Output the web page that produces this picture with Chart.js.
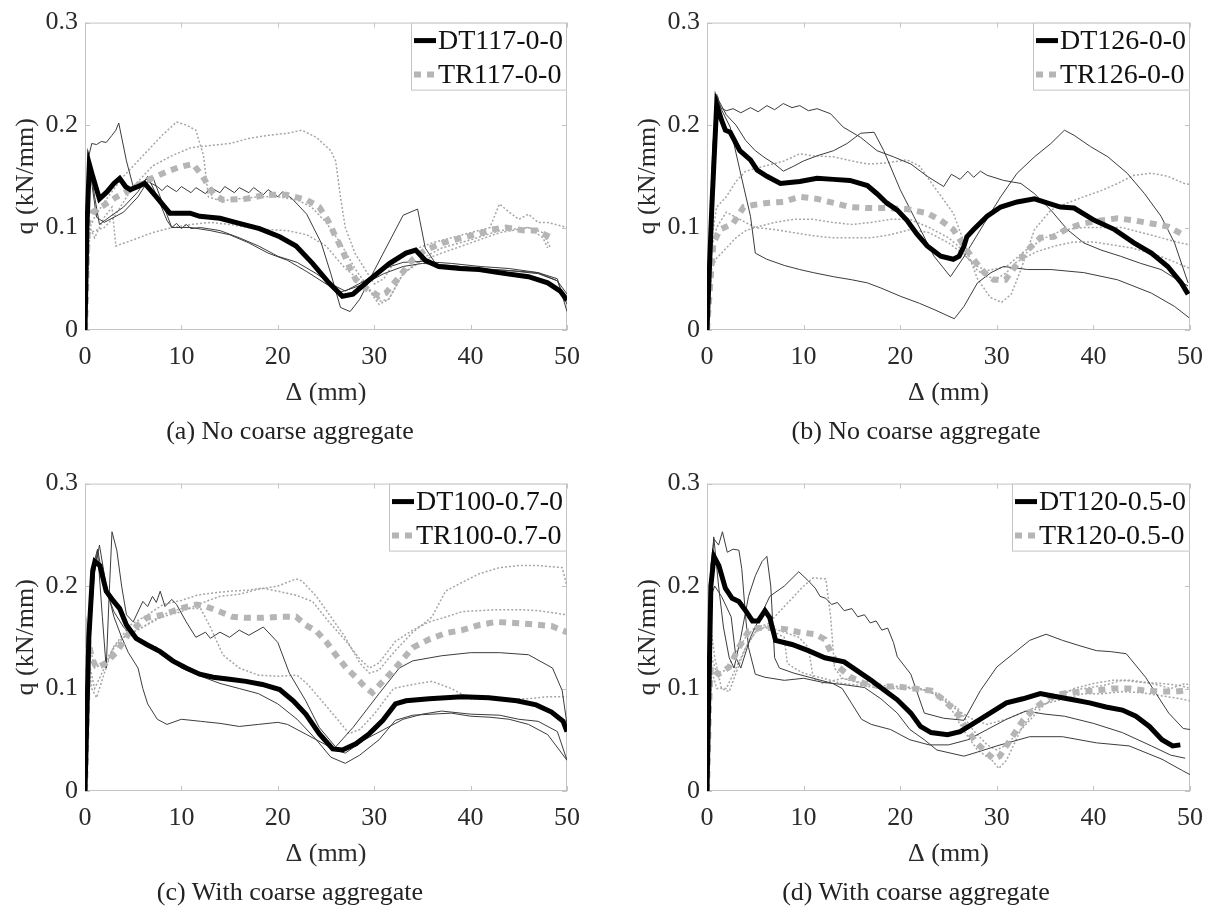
<!DOCTYPE html>
<html><head><meta charset="utf-8">
<script src="https://cdn.jsdelivr.net/npm/chart.js@4.4.0/dist/chart.umd.min.js"></script>
<style>
html,body{margin:0;padding:0;background:#fff;width:1215px;height:906px;overflow:hidden;position:relative;font-family:'Liberation Serif','Times New Roman',serif;}
canvas{position:absolute;}
.cap{position:absolute;transform:translate(-50%,-50%);font-size:26px;color:#222;white-space:nowrap;line-height:1;}
</style></head><body>
<script>
// ---------------- DATA: [Δ (mm), q (kN/mm)] pairs ----------------
// Panel (a)
const aDTmean=[[0,0],[0.2,0.1],[0.45,0.162],[0.8,0.15],[1.5,0.128],[2.3,0.135],[3,0.143],[3.6,0.148],[4.2,0.14],[4.7,0.137],[5.5,0.14],[6.2,0.143],[7.4,0.13],[8.8,0.114],[10.9,0.114],[11.9,0.111],[14,0.109],[16,0.104],[18.1,0.099],[20.2,0.091],[21.9,0.082],[23.6,0.065],[25.3,0.046],[26.7,0.033],[27.8,0.035],[29.5,0.049],[31.6,0.065],[33.3,0.075],[34.3,0.078],[35.3,0.068],[36.7,0.062],[38.9,0.06],[40.9,0.059],[42.9,0.056],[46,0.052],[48,0.046],[49.3,0.038],[50,0.029]];
const aTRmean=[[0,0],[0.15,0.05],[0.3,0.105],[0.8,0.115],[2,0.122],[3.3,0.13],[4.7,0.137],[6,0.144],[7.4,0.15],[8.6,0.155],[9.8,0.159],[11.2,0.162],[12.2,0.15],[13.3,0.133],[14.3,0.127],[16.7,0.128],[18.8,0.132],[20.9,0.132],[23,0.127],[24.3,0.12],[25.2,0.107],[26,0.091],[26.7,0.078],[27.4,0.062],[28.1,0.049],[29.1,0.041],[30.5,0.033],[31.2,0.036],[32.6,0.052],[34,0.069],[35.3,0.078],[37.1,0.085],[39.1,0.09],[40.9,0.094],[42.2,0.098],[43.7,0.1],[45.6,0.097],[46.8,0.097],[48.4,0.09]];
const aDT1=[[0,0],[0.4,0.17],[0.7,0.182],[1.2,0.181],[1.7,0.184],[2.2,0.183],[2.8,0.19],[3.2,0.195],[3.5,0.202],[4.3,0.165],[5,0.14],[6,0.145],[7,0.15],[8,0.125],[9,0.1],[11,0.1],[13,0.097],[15,0.093],[17,0.085],[19,0.075],[21,0.068],[23,0.057],[25,0.045],[26.5,0.037],[27.5,0.04],[29,0.045],[31,0.055],[33,0.062],[35,0.065],[38,0.063],[41,0.06],[44,0.058],[47,0.055],[49,0.048],[50,0.035]];
const aDT2=[[0,0],[0.3,0.14],[0.5,0.162],[1,0.13],[1.5,0.103],[2.5,0.11],[4,0.12],[5.5,0.135],[6.5,0.15],[7.5,0.13],[8.5,0.107],[9,0.1],[9.5,0.104],[10,0.099],[10.5,0.103],[11,0.099],[12,0.1],[14,0.097],[16,0.09],[18,0.082],[20,0.072],[22,0.066],[24,0.055],[25.5,0.045],[27,0.038],[29,0.048],[31,0.06],[33,0.066],[35,0.067],[38,0.065],[41,0.062],[44,0.06],[47,0.056],[49,0.048],[50,0.025]];
const aDT3=[[0,0],[0.3,0.12],[0.6,0.15],[1.2,0.11],[2,0.105],[4,0.115],[5.5,0.13],[6.5,0.145],[7.5,0.14],[8,0.136],[8.5,0.141],[9.5,0.135],[10,0.14],[11,0.134],[11.5,0.139],[12.5,0.133],[13,0.139],[14,0.134],[14.5,0.14],[15.5,0.134],[16,0.139],[17,0.134],[17.5,0.139],[18.5,0.132],[19,0.137],[20,0.13],[20.5,0.135],[21.5,0.128],[23,0.113],[24.5,0.085],[25.5,0.055],[26.5,0.022],[27.5,0.018],[28.5,0.03],[30,0.058],[31.5,0.085],[33,0.112],[34.5,0.118],[35.3,0.08],[36.5,0.063],[40,0.06],[44,0.058],[47,0.056],[49,0.05],[50,0.018]];
const aTR1=[[0,0],[0.5,0.1],[1,0.11],[2,0.125],[4,0.15],[6,0.17],[8,0.19],[9.5,0.203],[10.5,0.2],[11.5,0.195],[12.3,0.17],[12.8,0.13],[14,0.126],[16,0.128],[18,0.13],[20,0.13],[22,0.127],[23.5,0.12],[25,0.105],[26.5,0.085],[28,0.06],[29.5,0.04],[30.5,0.028],[31.5,0.03],[33,0.055],[35,0.07],[37,0.08],[40,0.088],[43,0.097],[46,0.1],[47.5,0.095],[48.3,0.08]];
const aTR2=[[0,0],[0.5,0.095],[2,0.1],[3,0.11],[5,0.14],[7,0.16],[9,0.17],[11,0.178],[13,0.18],[15,0.182],[17,0.187],[19,0.19],[21,0.192],[22.5,0.195],[24,0.188],[25.5,0.175],[26,0.165],[26.5,0.13],[27,0.1],[28,0.075],[29,0.06],[30,0.045],[31,0.05],[32,0.065],[34,0.078],[36,0.085],[38,0.09],[40,0.095],[42,0.1],[43,0.123],[44,0.115],[45,0.108],[46,0.113],[47,0.105],[48,0.105],[50,0.1]];
const aTR3=[[0,0],[0.5,0.1],[1,0.09],[2,0.11],[2.8,0.12],[3.2,0.082],[5,0.088],[7,0.095],[9,0.1],[11,0.103],[13,0.105],[15,0.103],[17,0.1],[19,0.098],[21,0.097],[23,0.093],[25,0.082],[27,0.06],[29,0.045],[30.5,0.025],[31.5,0.03],[33,0.055],[35,0.068],[37,0.075],[40,0.085],[43,0.095],[46,0.1],[47.5,0.09],[48,0.08]];
// Panel (b)
const bDTmean=[[0,0],[0.5,0.12],[1,0.22],[1.5,0.205],[1.9,0.195],[2.4,0.193],[3.4,0.175],[4.5,0.166],[5.2,0.156],[6.2,0.15],[7.6,0.143],[9.6,0.145],[11.4,0.148],[13.1,0.147],[14.8,0.146],[16.6,0.141],[17.6,0.133],[18.6,0.124],[19.7,0.117],[20.7,0.107],[21.7,0.094],[22.8,0.082],[24.2,0.072],[25.5,0.069],[26.1,0.072],[26.6,0.082],[26.9,0.091],[27.6,0.098],[29,0.111],[30.4,0.12],[32.1,0.125],[33.9,0.128],[35.2,0.124],[36.6,0.12],[38,0.119],[40.1,0.107],[42.2,0.098],[44.2,0.085],[46,0.075],[47.7,0.062],[49.1,0.046],[49.8,0.035]];
const bTRmean=[[0,0],[0.3,0.04],[0.66,0.085],[1.35,0.098],[2.7,0.104],[3.8,0.12],[4.8,0.122],[6.2,0.124],[7.9,0.125],[9.6,0.13],[11.4,0.128],[13.1,0.124],[14.8,0.12],[16.6,0.119],[18.6,0.119],[20.7,0.118],[22.8,0.114],[24.2,0.107],[25.5,0.098],[26.6,0.082],[27.6,0.069],[28.7,0.056],[29.7,0.049],[30.9,0.049],[31.9,0.062],[33.2,0.078],[34.5,0.09],[35.9,0.091],[37.3,0.099],[39,0.104],[40.8,0.107],[42.5,0.109],[44.2,0.107],[46,0.104],[47.7,0.101],[49.1,0.094]];
const bDT1=[[0,0],[0.5,0.15],[1,0.23],[1.5,0.215],[2.4,0.198],[3.4,0.156],[4.5,0.111],[5,0.075],[6.2,0.069],[8,0.063],[9.6,0.059],[11,0.056],[13.1,0.052],[15,0.049],[16.6,0.046],[18,0.041],[20,0.033],[22,0.026],[23.5,0.02],[25.6,0.011],[26.6,0.023],[28,0.046],[29.4,0.056],[30.7,0.062],[33.2,0.059],[35.6,0.059],[39,0.056],[42.5,0.049],[46,0.036],[48.4,0.023],[49.9,0.012]];
const bDT2=[[0,0],[0.6,0.18],[1.1,0.228],[1.35,0.217],[2,0.214],[2.7,0.216],[3.5,0.212],[4.5,0.217],[5.3,0.213],[6.2,0.219],[7,0.215],[7.9,0.221],[8.8,0.217],[9.6,0.219],[10.5,0.214],[11.4,0.216],[12.8,0.211],[14.1,0.198],[15,0.193],[15.9,0.188],[17.6,0.175],[19.3,0.169],[21.1,0.162],[22.8,0.15],[24.5,0.14],[25.3,0.152],[26.2,0.147],[27,0.155],[27.6,0.149],[28.3,0.155],[29,0.151],[30.7,0.146],[32.5,0.143],[33.9,0.133],[35.6,0.117],[37.3,0.098],[39,0.085],[40.8,0.078],[42.8,0.072],[44.9,0.065],[47,0.059],[48.7,0.049],[49.8,0.043]];
const bDT3=[[0,0],[0.6,0.17],[1.1,0.226],[2,0.21],[3,0.2],[4,0.185],[5,0.175],[6,0.168],[7,0.162],[7.9,0.155],[9,0.16],[10,0.165],[11.4,0.17],[13.1,0.175],[14.5,0.182],[15.9,0.192],[17.3,0.193],[18.3,0.175],[20,0.137],[21.4,0.111],[23.5,0.072],[25.2,0.052],[26.5,0.07],[28.7,0.104],[30.4,0.13],[32.1,0.153],[33.9,0.169],[35.6,0.182],[37,0.195],[38,0.19],[39.7,0.179],[41.5,0.169],[43.5,0.153],[45.3,0.133],[47,0.111],[48.4,0.085],[49.8,0.046]];
const bTR1=[[0,0],[0.5,0.09],[1,0.12],[2,0.13],[3,0.145],[4,0.155],[6,0.16],[8,0.165],[9.6,0.172],[11,0.17],[13.1,0.169],[15,0.165],[16.6,0.162],[18.5,0.163],[20.7,0.166],[22,0.16],[23.5,0.14],[25.5,0.114],[26.9,0.078],[28,0.05],[29.3,0.032],[30.5,0.027],[31.5,0.035],[32.5,0.059],[33.9,0.098],[35.6,0.117],[37.3,0.124],[39,0.13],[40.8,0.136],[42.5,0.143],[44.2,0.151],[46,0.153],[47.7,0.15],[49.4,0.143],[50,0.142]];
const bTR2=[[0,0],[0.5,0.06],[1,0.07],[2,0.08],[3,0.09],[4,0.097],[5,0.1],[7,0.105],[9,0.108],[11,0.108],[13,0.105],[15,0.103],[17,0.105],[19,0.108],[21,0.108],[23,0.1],[25,0.09],[26,0.082],[27,0.07],[28,0.058],[29,0.052],[30,0.05],[31,0.056],[32,0.066],[34,0.076],[36,0.082],[38,0.086],[40,0.086],[42,0.083],[44,0.08],[46,0.075],[48,0.068],[50,0.06]];
const bTR3=[[0,0],[0.5,0.08],[1,0.1],[2,0.115],[3,0.11],[5,0.1],[7,0.098],[9,0.095],[11,0.092],[13,0.09],[15,0.09],[17,0.09],[19,0.093],[21,0.098],[23,0.095],[25,0.085],[26,0.078],[27,0.07],[28,0.062],[29,0.058],[31,0.062],[33,0.078],[35,0.09],[37,0.098],[39,0.1],[41,0.1],[43,0.1],[45,0.095],[47,0.09],[49,0.085],[50,0.083]];
// Panel (c)
const cDTmean=[[0,0],[0.4,0.15],[0.8,0.215],[1.03,0.224],[1.55,0.22],[2.2,0.195],[2.9,0.186],[3.6,0.178],[4.3,0.162],[5.3,0.149],[6.4,0.143],[7.8,0.136],[9.1,0.127],[10.5,0.12],[11.9,0.114],[13.3,0.111],[15,0.109],[16.7,0.107],[18.4,0.104],[20.2,0.099],[21.6,0.088],[22.9,0.075],[24.3,0.056],[25.7,0.041],[26.7,0.04],[28.1,0.046],[29.5,0.056],[30.9,0.069],[32.2,0.085],[33.3,0.088],[35.7,0.09],[39.1,0.092],[41.9,0.091],[44.8,0.088],[46.8,0.084],[48.4,0.077],[49.6,0.068],[50,0.058]];
const cTRmean=[[0,0],[0.2,0.08],[0.35,0.146],[0.7,0.13],[1.2,0.12],[2.2,0.125],[3.3,0.136],[4.7,0.156],[6.4,0.169],[8.1,0.172],[9.8,0.178],[11.6,0.182],[12.6,0.18],[14,0.175],[15.3,0.17],[16.7,0.169],[18.4,0.169],[20.2,0.17],[21.9,0.17],[22.9,0.162],[24,0.156],[25,0.146],[26,0.133],[27.1,0.12],[28.1,0.111],[29.1,0.101],[29.8,0.096],[30.9,0.107],[32.2,0.12],[34,0.14],[35.7,0.148],[37.4,0.154],[39.1,0.157],[40.9,0.162],[42.6,0.165],[44.5,0.164],[46,0.163],[48.4,0.161],[50,0.155]];
const cDT1=[[0,0],[0.5,0.15],[1,0.215],[1.5,0.24],[2.2,0.2],[3,0.17],[3.8,0.15],[4.5,0.135],[5.5,0.12],[6,0.1],[6.5,0.085],[7.5,0.07],[8.5,0.065],[10,0.07],[12,0.068],[14,0.066],[16,0.063],[18,0.065],[20,0.067],[21,0.065],[23,0.055],[25,0.045],[26,0.04],[27,0.037],[29,0.05],[31,0.06],[33,0.07],[35,0.075],[37,0.078],[40,0.075],[43,0.074],[45,0.07],[47,0.068],[49,0.058],[50,0.03]];
const cDT2=[[0,0],[0.4,0.12],[0.8,0.2],[1.3,0.235],[1.8,0.17],[2.2,0.12],[2.5,0.19],[2.8,0.253],[3.3,0.235],[3.8,0.2],[4.3,0.172],[5,0.165],[6,0.185],[6.5,0.18],[7,0.19],[7.4,0.184],[7.8,0.195],[8.3,0.18],[9,0.187],[9.5,0.182],[10.5,0.165],[11.5,0.15],[12.5,0.155],[13,0.149],[14,0.155],[15,0.15],[16,0.157],[17,0.152],[18.5,0.16],[20,0.145],[21.2,0.115],[22.9,0.088],[24.3,0.062],[26,0.043],[27.8,0.062],[30.5,0.095],[32.6,0.12],[34,0.127],[37,0.132],[40,0.135],[43,0.135],[46,0.133],[48.5,0.12],[49.5,0.098],[50,0.065]];
const cDT3=[[0,0],[0.5,0.16],[1,0.225],[1.3,0.236],[2,0.2],[3,0.175],[4,0.16],[5,0.15],[6,0.145],[7.5,0.14],[8.5,0.13],[10,0.12],[12,0.112],[14,0.105],[16,0.1],[18,0.095],[20,0.085],[22,0.07],[24,0.05],[25.5,0.033],[27,0.027],[28.5,0.035],[30.5,0.05],[32.2,0.069],[34,0.074],[36,0.075],[38,0.076],[40,0.073],[42,0.072],[44,0.07],[46,0.065],[48,0.055],[50,0.03]];
const cTR1=[[0,0],[0.3,0.15],[1,0.12],[2,0.125],[3,0.14],[4,0.15],[6,0.16],[8,0.17],[10,0.175],[12,0.183],[14,0.19],[16,0.192],[18,0.197],[20,0.2],[21.9,0.207],[22.5,0.205],[24,0.19],[25.5,0.17],[27,0.15],[28.5,0.125],[29.5,0.115],[30.5,0.118],[32,0.135],[34,0.155],[36,0.17],[37.4,0.195],[39,0.203],[40.9,0.212],[43,0.218],[45,0.22],[47,0.22],[49.5,0.218],[50,0.2]];
const cTR2=[[0,0],[0.3,0.13],[0.7,0.1],[1.2,0.091],[2,0.115],[2.9,0.14],[4.7,0.162],[6.5,0.172],[8.1,0.182],[10,0.186],[11.6,0.191],[13,0.193],[15,0.195],[17,0.196],[18.4,0.198],[20,0.195],[21.9,0.191],[23.6,0.185],[25.3,0.165],[27.1,0.146],[28.4,0.13],[29.5,0.12],[30.5,0.125],[32.2,0.146],[34,0.157],[35.7,0.165],[37.5,0.17],[39.1,0.175],[42.6,0.177],[45,0.177],[47,0.176],[50,0.172]];
const cTR3=[[0,0],[0.3,0.13],[1,0.1],[2,0.12],[3,0.14],[4,0.15],[6,0.16],[8,0.172],[10,0.178],[12,0.178],[13,0.16],[14.3,0.133],[16,0.12],[18,0.113],[20,0.112],[22,0.113],[23,0.105],[24.3,0.091],[26,0.072],[27.4,0.056],[28.5,0.06],[30,0.075],[32,0.1],[34,0.104],[36,0.107],[38,0.1],[40,0.09],[42,0.09],[44,0.09],[46,0.09],[48,0.092],[50,0.092]];
// Panel (d)
const dDTmean=[[0,0],[0.4,0.2],[0.72,0.229],[1.23,0.22],[1.9,0.198],[2.6,0.188],[3.3,0.185],[4,0.176],[4.7,0.166],[5.3,0.166],[6,0.176],[6.5,0.169],[7.1,0.147],[8.8,0.143],[10.5,0.137],[12.2,0.13],[14.2,0.126],[15.3,0.119],[17,0.108],[18.4,0.098],[19.7,0.089],[21.1,0.076],[22.1,0.063],[23.2,0.057],[24.9,0.055],[26.2,0.058],[27.6,0.066],[29.3,0.076],[31,0.086],[32.7,0.09],[34.5,0.095],[36.2,0.092],[37.9,0.089],[39.6,0.086],[41.3,0.082],[43,0.079],[44.4,0.073],[45.8,0.063],[47.1,0.05],[48.2,0.044],[49,0.045]];
const dTRmean=[[0,0],[0.2,0.08],[0.4,0.121],[1.2,0.114],[2.3,0.121],[3.3,0.14],[4.3,0.156],[5.3,0.159],[6.7,0.159],[8.1,0.158],[9.5,0.155],[11.2,0.153],[12.2,0.148],[12.9,0.134],[13.6,0.121],[14.9,0.111],[16.3,0.105],[18,0.102],[19.7,0.102],[21.4,0.1],[23.2,0.098],[24.5,0.089],[25.9,0.076],[26.9,0.06],[27.9,0.047],[29,0.037],[29.7,0.031],[30.3,0.034],[31.4,0.05],[32.7,0.069],[34.1,0.082],[35.5,0.092],[36.8,0.095],[38.6,0.097],[40.3,0.098],[42,0.1],[43.7,0.1],[45.4,0.098],[47.1,0.097],[48.5,0.097],[49.5,0.098]];
const dDT1=[[0,0],[0.4,0.22],[0.72,0.246],[1.2,0.24],[1.6,0.253],[2.1,0.233],[2.7,0.236],[3.3,0.235],[3.6,0.217],[4,0.17],[4.3,0.14],[5,0.114],[6,0.111],[8,0.108],[10,0.11],[12,0.106],[14,0.104],[16.3,0.101],[18,0.09],[19.7,0.076],[21,0.06],[22.5,0.05],[23.8,0.04],[26.6,0.034],[28,0.038],[30,0.044],[33.4,0.053],[36.8,0.053],[40.3,0.047],[43.7,0.044],[47.1,0.031],[49.2,0.02],[50,0.016]];
const dDT2=[[0,0],[0.4,0.2],[0.7,0.248],[1.2,0.2],[1.7,0.16],[2.3,0.13],[2.8,0.12],[3.5,0.15],[4.3,0.19],[5,0.21],[5.7,0.224],[6.2,0.229],[6.6,0.2],[7,0.13],[7.5,0.12],[9,0.115],[11,0.11],[13,0.105],[14,0.1],[15,0.085],[16,0.07],[17,0.065],[19,0.06],[21,0.05],[23,0.045],[25,0.045],[27,0.05],[29,0.06],[31,0.07],[33,0.078],[35,0.075],[37,0.073],[40,0.066],[43,0.057],[46,0.044],[48,0.035],[49.5,0.032]];
const dDT3=[[0,0],[0.4,0.19],[0.8,0.2],[1.5,0.19],[2.5,0.17],[3,0.13],[3.5,0.12],[4.5,0.15],[5.5,0.17],[6.5,0.19],[8,0.2],[9.5,0.214],[10.5,0.205],[11.2,0.198],[11.7,0.19],[12.3,0.188],[12.9,0.182],[13.5,0.184],[14.2,0.176],[15,0.178],[15.6,0.17],[16.3,0.172],[16.9,0.164],[17.5,0.166],[18.1,0.157],[18.7,0.159],[19.3,0.145],[19.7,0.131],[21.1,0.114],[22.5,0.076],[24.5,0.071],[26.6,0.069],[28.3,0.098],[30,0.121],[31.7,0.134],[33.4,0.147],[35.1,0.153],[36.8,0.147],[38.5,0.142],[40.3,0.137],[41.8,0.136],[43.4,0.134],[45.4,0.111],[47.8,0.076],[49.3,0.061],[50,0.06]];
const dTR1=[[0,0],[0.4,0.12],[1,0.1],[2,0.1],[3,0.12],[4,0.14],[5,0.155],[6,0.16],[7,0.17],[8,0.18],[9,0.19],[10,0.2],[11,0.208],[12.3,0.207],[12.8,0.17],[13.2,0.12],[14,0.11],[15,0.108],[17,0.103],[19,0.1],[21,0.1],[23,0.098],[25,0.085],[26.5,0.06],[28,0.04],[29.5,0.03],[30.2,0.022],[31,0.03],[32.5,0.06],[34,0.08],[36,0.09],[38,0.1],[40,0.105],[42,0.108],[44,0.108],[46,0.105],[48,0.1],[49.5,0.105],[50,0.103]];
const dTR2=[[0,0],[0.4,0.16],[0.8,0.13],[1.5,0.1],[2.3,0.097],[3,0.115],[4,0.14],[5,0.155],[6,0.16],[7,0.155],[8,0.15],[8.3,0.125],[9,0.12],[10,0.115],[12,0.11],[14,0.105],[16,0.103],[18,0.1],[20,0.102],[22,0.1],[24,0.093],[26,0.078],[27.5,0.07],[29,0.065],[31,0.07],[33,0.078],[35,0.085],[37,0.09],[39,0.095],[41,0.095],[43,0.097],[45,0.096],[47,0.093],[49,0.09],[50,0.088]];
const dTR3=[[0,0],[0.5,0.13],[1,0.115],[2,0.118],[3,0.135],[4,0.15],[5,0.16],[6,0.162],[7,0.158],[8,0.155],[9.5,0.15],[10.5,0.14],[11,0.11],[12,0.105],[14,0.11],[16,0.105],[18,0.103],[20,0.102],[22,0.1],[24,0.095],[26,0.08],[27.5,0.06],[29,0.045],[30,0.04],[31,0.045],[33,0.065],[35,0.085],[37,0.097],[39,0.1],[41,0.103],[43,0.108],[45,0.106],[47,0.105],[49,0.103],[50,0.1]];

const xTicks=[0,10,20,30,40,50];
const yTicks=[0,0.1,0.2,0.3];
const captions=['(a) No coarse aggregate','(b) No coarse aggregate','(c) With coarse aggregate','(d) With coarse aggregate'];
const dtLabels=['DT117-0-0','DT126-0-0','DT100-0.7-0','DT120-0.5-0'];
const trLabels=['TR117-0-0','TR126-0-0','TR100-0.7-0','TR120-0.5-0'];

// ---------------- LAYOUT ----------------
const FONT="'Liberation Serif','Times New Roman',serif";
const panels=[
 {left:0,top:0,width:607,padRight:40,capX:290,capY:431,dtMean:aDTmean,trMean:aTRmean,dt:[aDT1,aDT2,aDT3],tr:[aTR1,aTR2,aTR3]},
 {left:622,top:0,width:593,padRight:25,capX:916,capY:431,dtMean:bDTmean,trMean:bTRmean,dt:[bDT1,bDT2,bDT3],tr:[bTR1,bTR2,bTR3]},
 {left:0,top:461,width:607,padRight:40,capX:290,capY:892,dtMean:cDTmean,trMean:cTRmean,dt:[cDT1,cDT2,cDT3],tr:[cTR1,cTR2,cTR3]},
 {left:622,top:461,width:593,padRight:22,capX:916,capY:892,dtMean:dDTmean,trMean:dTRmean,dt:[dDT1,dDT2,dDT3],tr:[dTR1,dTR2,dTR3]}
];

const toXY=arr=>arr.map(p=>({x:p[0],y:p[1]}));

const framePlugin={id:'frame',beforeDatasetsDraw(chart){
  const {ctx,chartArea:a,scales:{x,y}}=chart;
  ctx.save();
  ctx.strokeStyle='#c4c4c4';ctx.lineWidth=1;
  ctx.strokeRect(a.left+0.5,a.top+0.5,a.width-1,a.height-1);
  ctx.beginPath();
  x.ticks.forEach(t=>{const px=Math.round(x.getPixelForValue(t.value))+0.5;
    ctx.moveTo(px,a.bottom);ctx.lineTo(px,a.bottom-5);ctx.moveTo(px,a.top);ctx.lineTo(px,a.top+5);});
  y.ticks.forEach(t=>{const py=Math.round(y.getPixelForValue(t.value))+0.5;
    ctx.moveTo(a.left,py);ctx.lineTo(a.left+5,py);ctx.moveTo(a.right,py);ctx.lineTo(a.right-5,py);});
  ctx.stroke();ctx.restore();
}};

const boxLegend={id:'boxLegend',afterDraw(chart){
  const items=chart.data.datasets.filter(d=>d.label);
  const ctx=chart.ctx,a=chart.chartArea;
  ctx.save();
  ctx.font="28px "+FONT;
  const tw=Math.max(...items.map(d=>ctx.measureText(d.label).width));
  const sample=22,padL=3,gap=2,padR=4,rowH=34,h=68;
  const w=padL+sample+gap+tw+padR;
  const x0=Math.round(a.right-w),y0=a.top;
  ctx.fillStyle='#fff';ctx.fillRect(x0,y0,w,h);
  ctx.strokeStyle='#c4c4c4';ctx.lineWidth=1;ctx.strokeRect(x0+0.5,y0+0.5,a.right-x0-1,h-1);
  items.forEach((d,i)=>{
    const cy=y0+18+i*rowH;
    ctx.beginPath();ctx.strokeStyle=d.borderColor;ctx.lineWidth=d.borderWidth;
    ctx.setLineDash(d.borderDash||[]);ctx.lineCap='butt';
    ctx.moveTo(x0+padL,cy);ctx.lineTo(x0+padL+sample,cy);ctx.stroke();
    ctx.setLineDash([]);
    ctx.fillStyle='#111';ctx.textBaseline='middle';ctx.textAlign='left';
    ctx.fillText(d.label,x0+padL+sample+gap,cy+1);
  });
  ctx.restore();
}};

Chart.defaults.font.family=FONT;

panels.forEach((p,i)=>{
  const cv=document.createElement('canvas');
  cv.width=p.width;cv.height=445;
  cv.style.left=p.left+'px';cv.style.top=p.top+'px';
  cv.style.width=p.width+'px';cv.style.height='445px';
  document.body.appendChild(cv);
  const cap=document.createElement('div');
  cap.className='cap';cap.textContent=captions[i];
  cap.style.left=p.capX+'px';cap.style.top=p.capY+'px';
  document.body.appendChild(cap);

  const common={pointRadius:0,pointHoverRadius:0,fill:false,tension:0};
  const datasets=[
    Object.assign({label:dtLabels[i],data:toXY(p.dtMean),borderColor:'#000000',borderWidth:5},common),
    Object.assign({label:trLabels[i],data:toXY(p.trMean),borderColor:'#b5b5b5',borderWidth:6,borderDash:[7,6]},common)
  ];
  p.dt.forEach(s=>datasets.push(Object.assign({data:toXY(s),borderColor:'#3c3c3c',borderWidth:1},common)));
  p.tr.forEach(s=>datasets.push(Object.assign({data:toXY(s),borderColor:'#a6a6a6',borderWidth:1.5,borderDash:[2,2]},common)));

  new Chart(cv,{
    type:'line',
    data:{datasets},
    options:{
      responsive:false,animation:false,devicePixelRatio:1,
      layout:{padding:{top:20,right:p.padRight,bottom:0,left:0}},
      plugins:{legend:{display:false},tooltip:{enabled:false}},
      scales:{
        x:{type:'linear',min:xTicks[0],max:xTicks[xTicks.length-1],
          afterBuildTicks:s=>{s.ticks=xTicks.map(v=>({value:v}));},
          ticks:{padding:12,color:'#2a2a2a',font:{size:26},maxRotation:0,autoSkip:false},
          grid:{display:false,drawTicks:false},border:{display:false},
          title:{display:true,text:'Δ (mm)',color:'#2a2a2a',font:{size:26},padding:{top:0,bottom:36}},
          afterFit:s=>{s.height=115;}},
        y:{type:'linear',min:yTicks[0],max:yTicks[yTicks.length-1],
          afterBuildTicks:s=>{s.ticks=yTicks.map(v=>({value:v}));},
          ticks:{padding:7,color:'#2a2a2a',font:{size:26}},
          grid:{display:false,drawTicks:false},border:{display:false},
          title:{display:true,text:'q (kN/mm)',color:'#2a2a2a',font:{size:26},padding:{top:11,bottom:0}},
          afterFit:s=>{s.width=85;}}
      }
    },
    plugins:[framePlugin,boxLegend]
  });
});
</script>
</body></html>
